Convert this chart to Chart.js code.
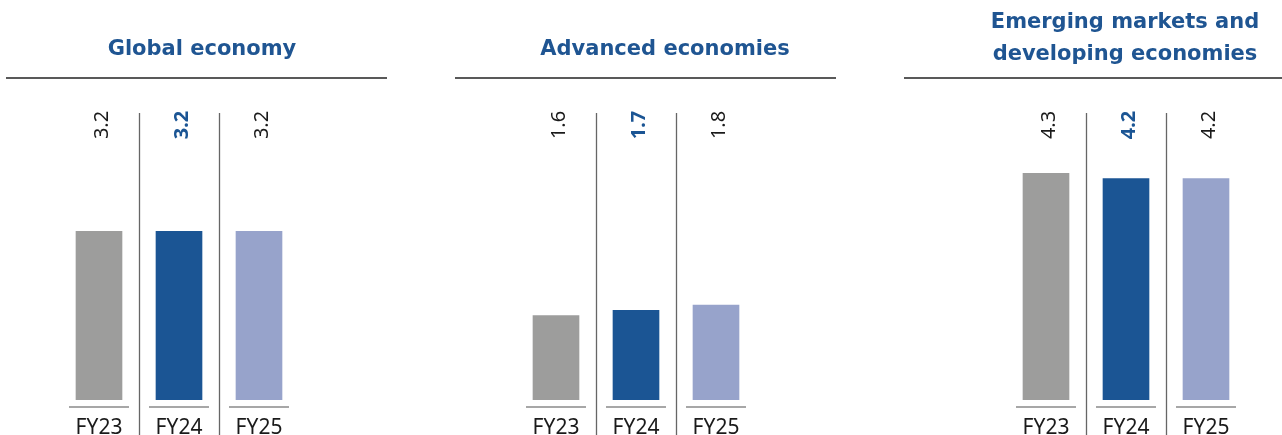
<!DOCTYPE html>
<html>
<head>
<meta charset="utf-8">
<script src="https://cdn.jsdelivr.net/npm/chart.js@4.4.1/dist/chart.umd.min.js"></script>
<style>
  html, body { margin: 0; padding: 0; background: #fff; }
  body { width: 1282px; height: 435px; position: relative; overflow: hidden; }
  .panel { position: absolute; top: 0; height: 435px; }
  .title {
    position: absolute; left: 0; top: 0;
    display: flex; align-items: center; justify-content: center;
    font-family: "DejaVu Sans", sans-serif; font-weight: bold; font-size: 21px;
    color: #1f5592; text-align: center; line-height: 32px; white-space: nowrap;
  }
</style>
</head>
<body>
<div class="panel" id="p0" style="left:6px;width:381px"><div class="title" id="t0"></div><canvas id="c0"></canvas></div>
<div class="panel" id="p1" style="left:455px;width:381px"><div class="title" id="t1"></div><canvas id="c1"></canvas></div>
<div class="panel" id="p2" style="left:904px;width:378px"><div class="title" id="t2"></div><canvas id="c2"></canvas></div>
<script>
var categories = ["FY23", "FY24", "FY25"];
var titles = ["Global economy", "Advanced economies", "Emerging markets and<br>developing economies"];
var globalValues = [3.2, 3.2, 3.2];
var advancedValues = [1.6, 1.7, 1.8];
var emergingValues = [4.3, 4.2, 4.2];
var barColors = ["#9d9d9c", "#1b5594", "#97a3cb"];

var series = [globalValues, advancedValues, emergingValues];
// per panel: chart padding left/right, title box left/width/height
var pads = [[53, 88], [61, 80], [102, 36]];
var titleBox = [[40, 312, 96], [30, 360, 96], [30, 382, 74]];

// title rule, separators, base ticks and rotated value labels
var decor = {
    id: "decor",
    afterDatasetsDraw(chart) {
        var ctx = chart.ctx;
        var pts = chart.getDatasetMeta(0).data;
        var vals = chart.data.datasets[0].data;
        ctx.save();
        ctx.strokeStyle = "#222";
        ctx.lineWidth = 1.3;
        ctx.beginPath();
        ctx.moveTo(0, 78);
        ctx.lineTo(chart.width, 78);
        ctx.stroke();

        ctx.strokeStyle = "#666";
        ctx.lineWidth = 1.3;
        for (var i = 0; i < pts.length - 1; i++) {
            var sx = Math.round((pts[i].x + pts[i + 1].x) / 2) + 0.5;
            ctx.beginPath();
            ctx.moveTo(sx, 113);
            ctx.lineTo(sx, chart.height);
            ctx.stroke();
        }
        ctx.strokeStyle = "#8a8a8a";
        ctx.lineWidth = 1.6;
        pts.forEach(function (p) {
            ctx.beginPath();
            ctx.moveTo(p.x - 30, 407);
            ctx.lineTo(p.x + 30, 407);
            ctx.stroke();
        });

        pts.forEach(function (p, i) {
            ctx.save();
            ctx.translate(p.x + 3, 125);
            ctx.rotate(-Math.PI / 2);
            ctx.textAlign = "center";
            ctx.textBaseline = "middle";
            if (i === 1) {
                ctx.font = "bold 20px 'Noto Sans'";
                ctx.fillStyle = "#1b5594";
            } else {
                ctx.font = "20px 'Noto Sans'";
                ctx.fillStyle = "#1a1a1a";
            }
            ctx.fillText(vals[i].toFixed(1), 0, 0);
            ctx.restore();
        });
        ctx.restore();
    }
};

series.forEach(function (vals, k) {
    var t = document.getElementById("t" + k);
    t.innerHTML = titles[k];
    t.style.left = titleBox[k][0] + "px";
    t.style.width = titleBox[k][1] + "px";
    t.style.height = titleBox[k][2] + "px";

    new Chart("c" + k, {
        type: "bar",
        data: {
            labels: categories,
            datasets: [{
                data: vals,
                backgroundColor: barColors,
                barThickness: 46,
            }],
        },
        options: {
            responsive: true,
            maintainAspectRatio: false,
            animation: false,
            layout: { padding: { top: 110, left: pads[k][0], right: pads[k][1], bottom: 0 } },
            scales: {
                x: {
                    grid: { display: false, drawTicks: false },
                    border: { display: false },
                    afterFit: function (scale) { scale.height = 35; },
                    ticks: {
                        padding: 15,
                        color: "#1a1a1a",
                        font: { family: "'Noto Sans'", size: 21 },
                    },
                },
                y: {
                    display: false,
                    min: 0,
                    max: 5.5,
                },
            },
            plugins: {
                legend: { display: false },
                tooltip: { enabled: false },
            },
        },
        plugins: [decor],
    });
});
</script>
</body>
</html>
